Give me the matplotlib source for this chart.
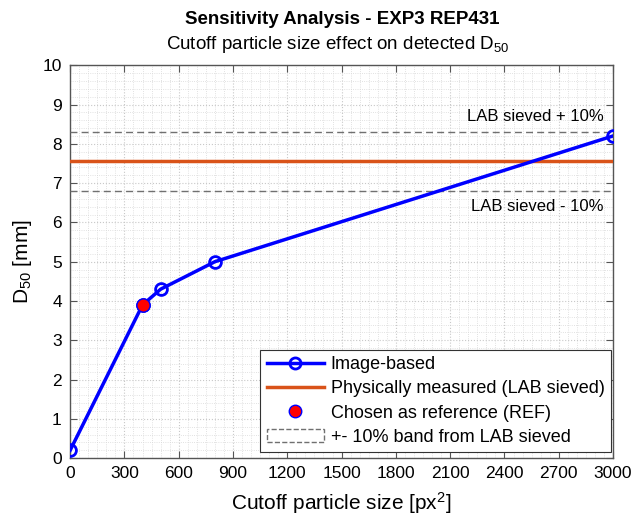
import matplotlib
matplotlib.use("Agg")
import matplotlib.pyplot as plt
from matplotlib.patches import Rectangle
from matplotlib.lines import Line2D
from matplotlib.ticker import MultipleLocator

plt.rcParams['font.family'] = ['Liberation Sans', 'DejaVu Sans']
plt.rcParams['mathtext.fontset'] = 'custom'
plt.rcParams['mathtext.rm'] = 'Liberation Sans'
plt.rcParams['mathtext.it'] = 'Liberation Sans'

# data
cutoff = [0, 400, 500, 800, 3000]
d50 = [0.2, 3.9, 4.3, 5.0, 8.2]
ref_x = 400
ref_y = 3.9
lab_sieved = 7.55
band = 0.10

fig = plt.figure(figsize=(6.32, 5.26), dpi=100)
ax = fig.add_axes([0.111, 0.129, 0.859, 0.747])

blue = '#0000FF'
orange = '#D95319'

ax.plot(cutoff, d50, color=blue, lw=2.5, marker='o', ms=8.5, mfc='none', mew=2, zorder=5)
ax.axhline(lab_sieved, color=orange, lw=2.5, zorder=4)
ax.axhline(lab_sieved * (1 + band), color='#707070', lw=1, ls=(0, (5, 3)), zorder=3)
ax.axhline(lab_sieved * (1 - band), color='#707070', lw=1, ls=(0, (5, 3)), zorder=3)
ax.plot([ref_x], [ref_y], 'o', color='red', mec=blue, ms=9.5, mew=1, zorder=6)

ax.text(2950, lab_sieved * (1 + band) + 0.2, 'LAB sieved + 10%', ha='right', va='bottom', fontsize=12)
ax.text(2950, lab_sieved * (1 - band) - 0.2, 'LAB sieved - 10%', ha='right', va='top', fontsize=12)

ax.set_xlim(0, 3000)
ax.set_ylim(0, 10)
ax.set_xticks(range(0, 3001, 300))
ax.set_yticks(range(0, 11))
ax.xaxis.set_minor_locator(MultipleLocator(50))
ax.yaxis.set_minor_locator(MultipleLocator(0.2))
ax.grid(which='major', color='#c8c8c8', ls=':', lw=0.8)
ax.grid(which='minor', color='#d8d8d8', ls=':', lw=0.6)
ax.tick_params(which='both', direction='in', top=True, right=True, labelsize=12.5, color='#555555')
ax.tick_params(which='minor', length=0)
ax.tick_params(which='major', length=5, pad=6)
for s in ax.spines.values():
    s.set_color('#555555')
    s.set_linewidth(1)

ax.set_xlabel('Cutoff particle size [px$^2$]', fontsize=15, labelpad=6)
ax.set_ylabel('D$_{50}$ [mm]', fontsize=15, labelpad=6)

fig.text(0.541, 0.963, 'Sensitivity Analysis - EXP3 REP431', ha='center', va='center',
         fontsize=13.5, fontweight='bold')
fig.text(0.535, 0.915, 'Cutoff particle size effect on detected D$_{50}$', ha='center', va='center',
         fontsize=13.5)

handles = [
    Line2D([], [], color=blue, lw=2.5, marker='o', ms=8, mfc='none', mew=2),
    Line2D([], [], color=orange, lw=2.5),
    Line2D([], [], ls='none', marker='o', color='red', mec=blue, ms=9),
    Rectangle((0, 0), 1, 1, fill=False, ec='#707070', ls='--', lw=1),
]
labels = ['Image-based', 'Physically measured (LAB sieved)',
          'Chosen as reference (REF)', '+- 10% band from LAB sieved']
leg = ax.legend(handles, labels, loc='lower right', bbox_to_anchor=(0.996, 0.015),
                fontsize=13, frameon=True, fancybox=False, framealpha=1,
                edgecolor='#333333', handlelength=3.2, borderpad=0.35, labelspacing=0.4,
                handletextpad=0.35, borderaxespad=0)
leg.get_frame().set_linewidth(0.8)

fig.savefig('out.png', dpi=100)
